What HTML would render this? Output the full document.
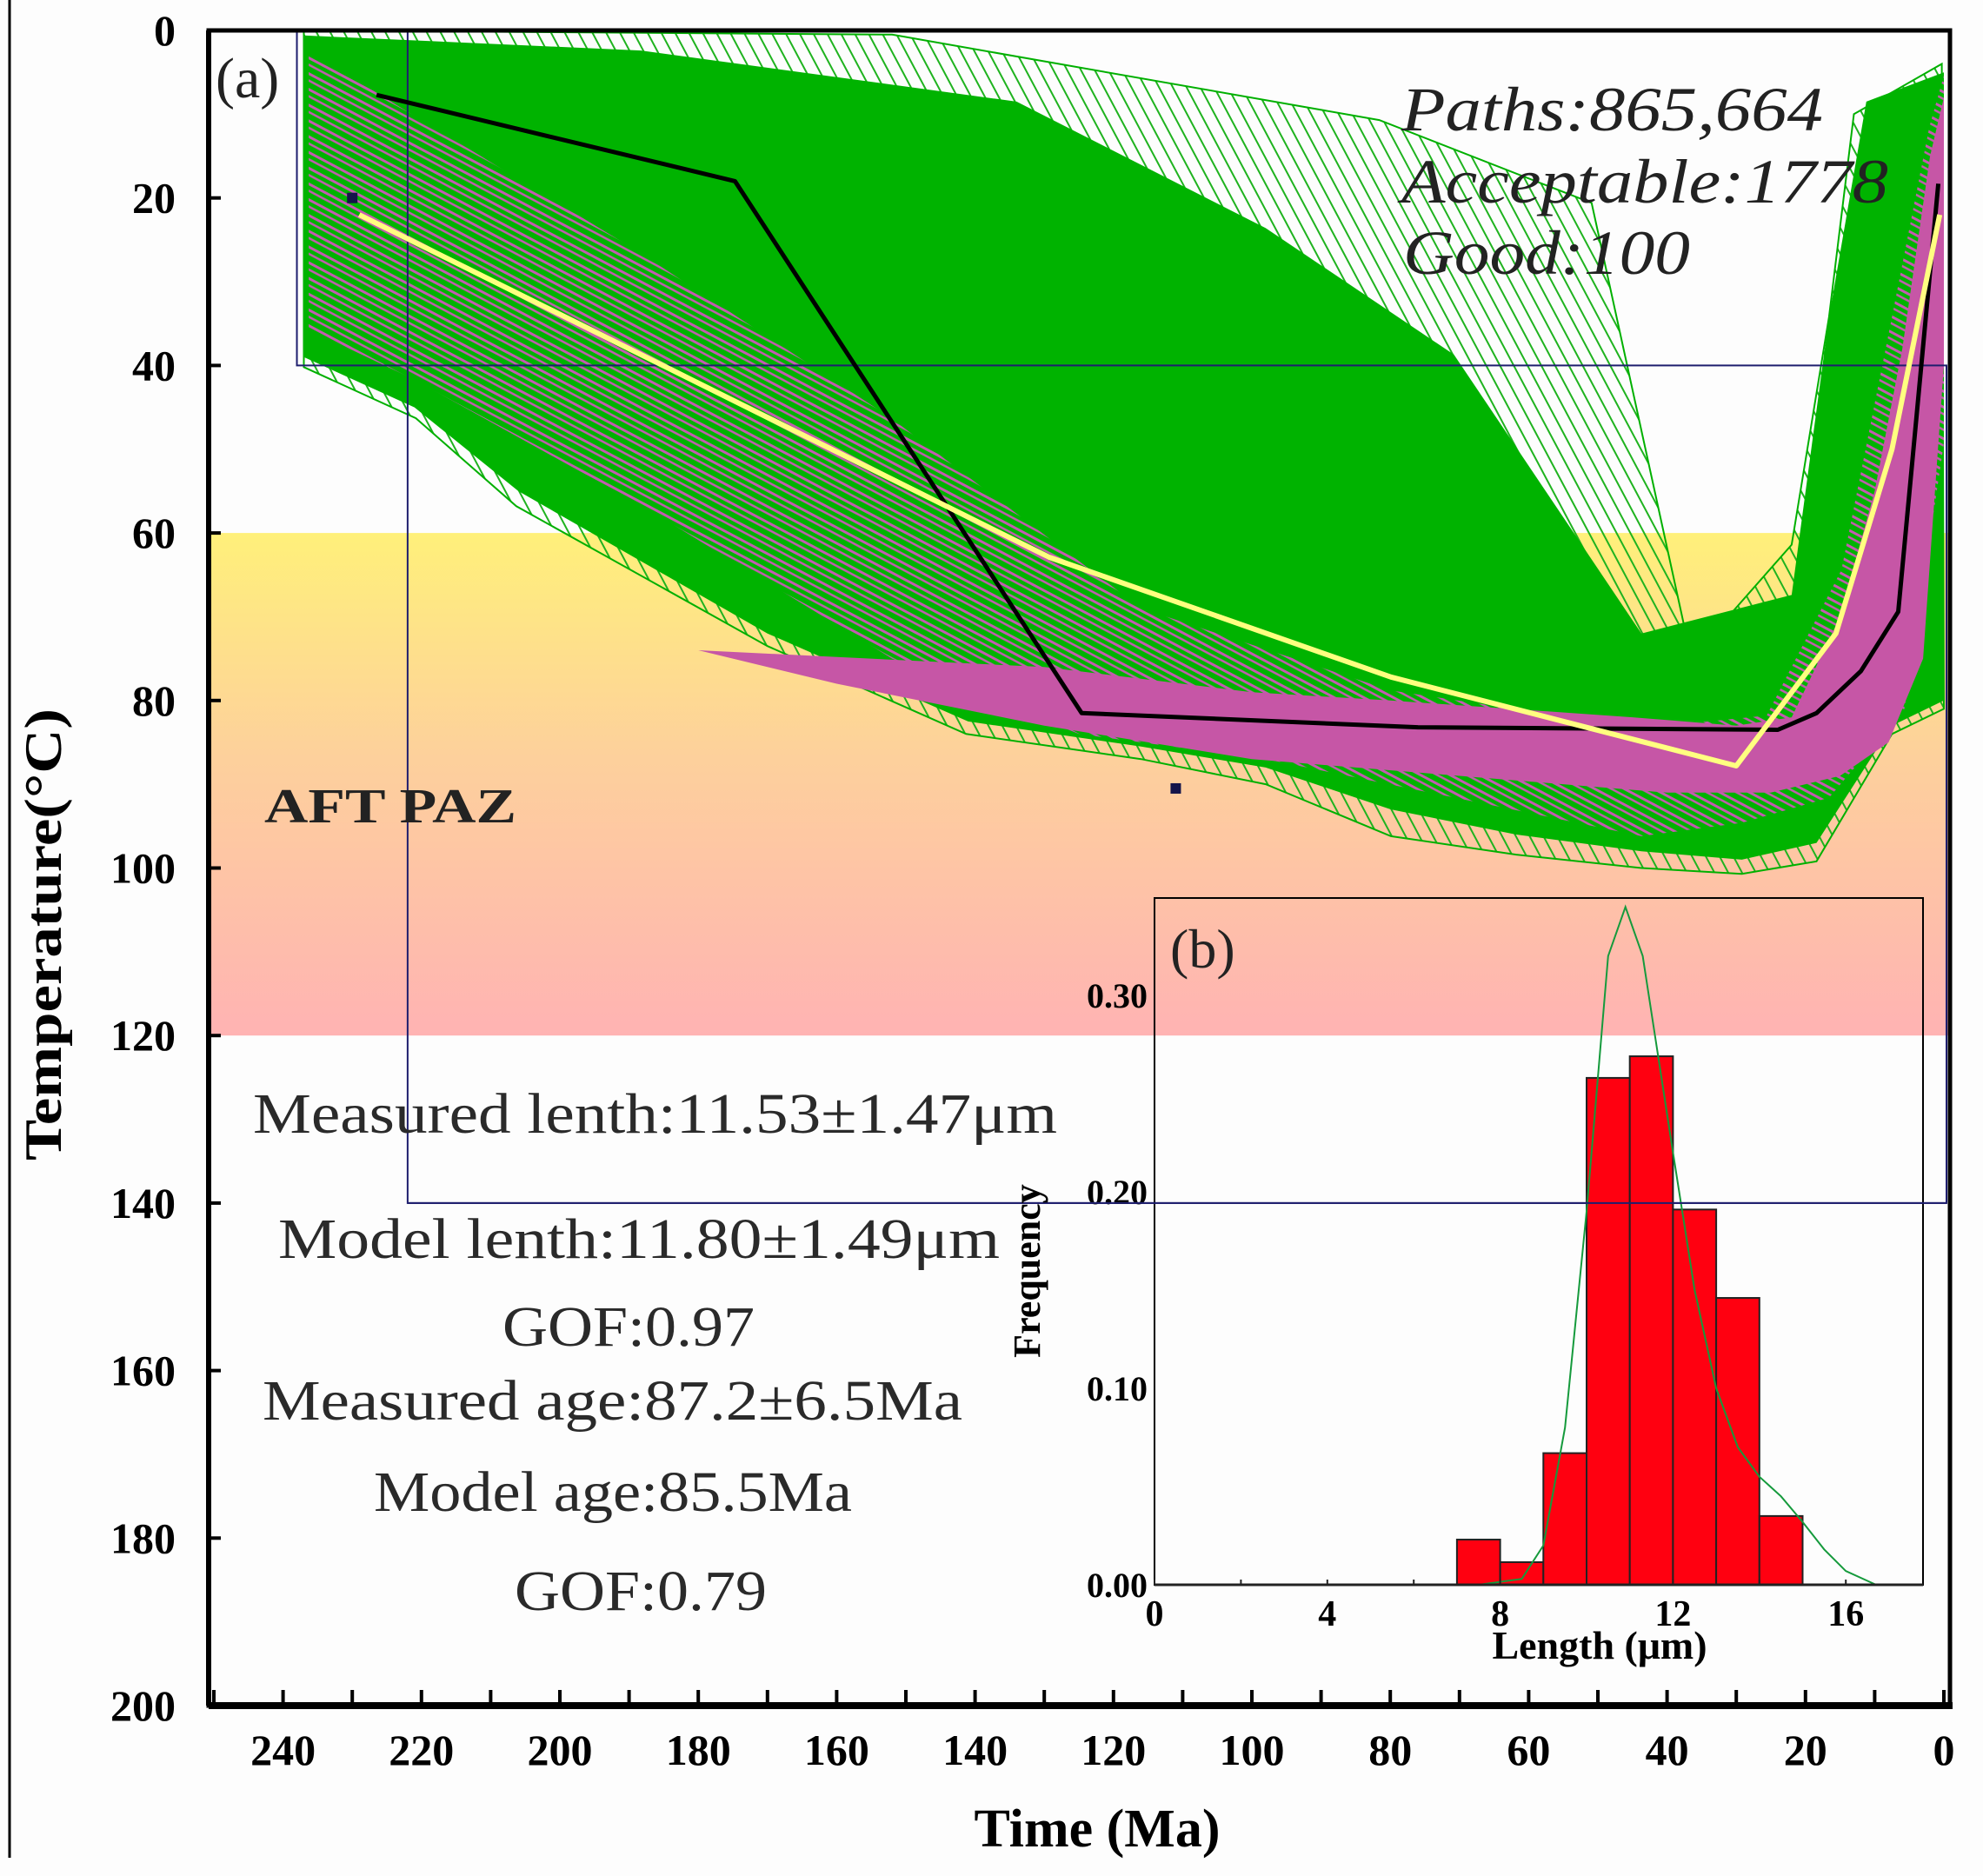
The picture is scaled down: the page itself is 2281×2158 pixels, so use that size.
<!DOCTYPE html>
<html><head><meta charset="utf-8">
<style>
html,body{margin:0;padding:0;background:#fdfdfd;}
svg{display:block;}
text{font-family:"Liberation Serif",serif;}
</style></head>
<body>
<svg id="chart" width="2281" height="2158" viewBox="0 0 2281 2158" xmlns="http://www.w3.org/2000/svg">
<defs>
<linearGradient id="pazGrad" x1="0" y1="0" x2="0" y2="1">
<stop offset="0" stop-color="#fff07a"/>
<stop offset="0.45" stop-color="#fdd09c"/>
<stop offset="1" stop-color="#ffb3b3"/>
</linearGradient>
<pattern id="pinkHatch" patternUnits="userSpaceOnUse" width="16" height="16" patternTransform="rotate(28)">
<line x1="0" y1="4" x2="16" y2="4" stroke="#c45ab0" stroke-width="3"/>
<line x1="0" y1="11" x2="16" y2="11" stroke="#c45ab0" stroke-width="2.5"/>
</pattern>
<pattern id="greenHatch" patternUnits="userSpaceOnUse" width="14" height="14" patternTransform="rotate(62)">
<line x1="0" y1="4" x2="14" y2="4" stroke="#1fb31f" stroke-width="2"/>
</pattern>
</defs>
<rect x="0" y="0" width="2281" height="2158" fill="#fdfdfd"/>
<line x1="11" y1="0" x2="11" y2="2137" stroke="#000" stroke-width="3"/>
<g id="plot"></g>
</svg>
<script>
// ---- main chart data (time in Ma, temperature in °C) ----
const xTicks = [240,220,200,180,160,140,120,100,80,60,40,20,0];
const xMinorTicks = [250,230,210,190,170,150,130,110,90,70,50,30,10];
const yTicks = [0,20,40,60,80,100,120,140,160,180,200];
const pazRange = [60,120];
const acceptOuterMa = [237,152,81.6,50.9,36.5,22,16.6,13,0.3,0,7.5,18.4,29.2,43.7,61.8,79.9,98,116,141.3,170,206.3,220.8,237];
const acceptOuterT  = [0,0.5,10.7,20.6,75,61.4,34.2,10,4,81,84,99.2,100.7,100,98.4,96.2,90,87,84,73.5,56.8,46.3,40.2];
const acceptDenseMa = [237,188.3,134,98,70.8,43.7,22,16.6,11.2,0,0,7.5,18.4,29.2,43.7,61.8,79.9,98,116,141,170,206,221,237];
const acceptDenseT  = [0.6,2.4,8.5,23.6,38.7,72,67.4,34.2,8.5,5,80,83,97,99,98,96,93,88,85.5,82.5,72,55,45,39];
const goodWideMa = [236.3,224.4,188.3,152.1,116,79.9,43.7,25.6,14.8,7.5,2.1,0,0,5.7,16.6,29.2,43.7,61.8,98,125,152,188,221,236.3];
const goodWideT  = [2.4,8.5,26.6,46.3,69,78.8,83.3,81.8,64.4,34.2,11.5,5.4,49.3,81,91.6,94.6,96.2,93.1,87,84,75,56.8,41.7,35.7];
const goodBandMa = [180,130,100,80,45,30,22,15,10,6,2,0,0,3,8,15,25,40,70,100,130,160];
const goodBandT  = [74,76,79,80,82,83,82,70,55,38,15,8,40,75,85,89,91,91,89,87,83,78];
const bestMa = [226.5,174.7,124.6,76,24,18.4,12,6.6,0.8];
const bestT  = [7.7,18,81.5,83.2,83.5,81.5,76.5,69.4,18.3];
const meanMa = [229,129.3,79.9,30,15.6,7.5,0.6];
const meanT  = [22,62.9,77.2,87.8,72,50,22];
const constraintBoxMa = [238,222];
const constraintBoxT = [0,40];
const constraintBox2Ma = [222,0];
const constraintBox2T = [40,140];
const markerMa = [230,111];
const markerT = [20,90.5];

// ---- inset histogram data ----
const binStarts = [7,8,9,10,11,12,13,14];
const binFreq = [0.023,0.0115,0.067,0.258,0.269,0.191,0.146,0.035];
const insetXTicks = [0,4,8,12,16];
const insetXMinor = [2,6,10,14];
const insetYTicks = [0.00,0.10,0.20,0.30];
const fitLen = [7.5,8.5,9,9.5,10,10.5,10.9,11.3,12,12.5,13,13.5,14,14.5,15,15.5,16,16.7];
const fitFreq = [0,0.003,0.02,0.08,0.19,0.32,0.345,0.32,0.22,0.15,0.1,0.07,0.055,0.045,0.032,0.018,0.007,0];

const NS="http://www.w3.org/2000/svg";
const plot=document.getElementById('plot');
function mk(tag,attrs,parent){const e=document.createElementNS(NS,tag);for(const k in attrs)e.setAttribute(k,attrs[k]);(parent||plot).appendChild(e);return e;}
const X0=240, X1=2243, Y0=35, Y1=1962;
function xs(ma){return 2236-7.96*ma;}
function ys(t){return Y0+(Y1-Y0)*t/200;}
function poly(ma,t){return ma.map((m,i)=>xs(m).toFixed(1)+','+ys(t[i]).toFixed(1)).join(' ');}

let e=mk('rect',{x:X0,y:ys(pazRange[0]),width:X1-X0,height:ys(pazRange[1])-ys(pazRange[0]),fill:'url(#pazGrad)'});



e=mk('polygon',{points:poly(acceptOuterMa,acceptOuterT),fill:'url(#greenHatch)',stroke:'#00b000','stroke-width':2});


e=mk('polygon',{points:poly(acceptDenseMa,acceptDenseT),fill:'#00b300'});


e=mk('polygon',{points:poly(goodWideMa,goodWideT),fill:'url(#pinkHatch)'});


e=mk('polygon',{points:poly(goodBandMa,goodBandT),fill:'#c656a6'});



const boxStroke='#1e1e6e';
e=mk('rect',{x:xs(constraintBoxMa[0]),y:ys(constraintBoxT[0]),width:xs(constraintBoxMa[1])-xs(constraintBoxMa[0]),height:ys(constraintBoxT[1])-ys(constraintBoxT[0]),fill:'none',stroke:boxStroke,'stroke-width':2});


e=mk('rect',{x:xs(constraintBox2Ma[0]),y:ys(constraintBox2T[0]),width:X1-4-xs(constraintBox2Ma[0]),height:ys(constraintBox2T[1])-ys(constraintBox2T[0]),fill:'none',stroke:boxStroke,'stroke-width':2});



e=mk('polyline',{points:poly(bestMa,bestT),fill:'none',stroke:'#000','stroke-width':5,'stroke-linejoin':'round'});


e=mk('polyline',{points:poly(meanMa,meanT),fill:'none',stroke:'#ffff80','stroke-width':6,'stroke-linejoin':'round'});


markerMa.forEach((m,i)=>{
  const r=mk('rect',{x:xs(m)-6,y:ys(markerT[i])-6,width:12,height:12,fill:'#14144a'});
  
  
});

e=mk('path',{d:`M${X0},${Y1} L${X0},${Y0} L${X1},${Y0} L${X1},${Y1} Z`,fill:'none',stroke:'#000','stroke-width':5});


e=mk('line',{x1:X0,y1:Y1,x2:X1+3,y2:Y1,stroke:'#000','stroke-width':8});


e=mk('line',{x1:X0,y1:Y0,x2:X0,y2:Y1,stroke:'#000','stroke-width':6});



xTicks.concat(xMinorTicks).forEach(v=>{
  const t=mk('line',{x1:xs(v),y1:Y1,x2:xs(v),y2:Y1-18,stroke:'#000','stroke-width':4});
  
  
});
xTicks.forEach(v=>{
  const t=mk('text',{x:xs(v),y:2030,'text-anchor':'middle','font-size':50,'font-weight':'bold',fill:'#000'});
  t.textContent=v;
  
  
});
yTicks.forEach(v=>{
  const t=mk('line',{x1:X0,y1:ys(v),x2:X0+14,y2:ys(v),stroke:'#000','stroke-width':4});
  
  
  const l=mk('text',{x:202,y:ys(v)+17,'text-anchor':'end','font-size':50,'font-weight':'bold',fill:'#000'});
  l.textContent=v;
  
  
});

const IX0=1328, IX1=2212, IY0=1033, IY1=1823;
function ix(v){return IX0+49.7*v;}
function iy(f){return IY1-2260*f;}
e=mk('rect',{x:IX0,y:IY0,width:IX1-IX0,height:IY1-IY0,fill:'none',stroke:'#000','stroke-width':2});


binStarts.forEach((b,i)=>{
  const r=mk('rect',{x:ix(b),y:iy(binFreq[i]),width:ix(b+1)-ix(b),height:IY1-iy(binFreq[i]),fill:'#ff0010',stroke:'#222','stroke-width':2});
  
  
});
e=mk('polyline',{points:fitLen.map((v,i)=>ix(v).toFixed(1)+','+iy(fitFreq[i]).toFixed(1)).join(' '),fill:'none',stroke:'#159a3c','stroke-width':2});


e=mk('line',{x1:IX0,y1:IY1,x2:IX1,y2:IY1,stroke:'#222','stroke-width':3});


insetXTicks.concat(insetXMinor).forEach(v=>{
  const t=mk('line',{x1:ix(v),y1:IY1,x2:ix(v),y2:IY1-6,stroke:'#222','stroke-width':2});
  
  
});
insetXTicks.forEach(v=>{
  const t=mk('text',{x:ix(v),y:1870,'text-anchor':'middle','font-size':42,'font-weight':'bold',fill:'#000'});
  t.textContent=v;
  
  
});
insetYTicks.forEach(v=>{
  const t=mk('text',{x:1320,y:iy(v)+14,'text-anchor':'end','font-size':40,'font-weight':'bold',fill:'#000'});
  t.textContent=v.toFixed(2);
  
  
});

e=mk('line',{x1:xs(constraintBox2Ma[0]),y1:ys(140),x2:X1-4,y2:ys(140),stroke:boxStroke,'stroke-width':2});



function txt(s,attrs,name){const t=mk('text',attrs);t.textContent=s;return t;}
txt('(a)',{x:248,y:112,'font-size':66,fill:'#222'},'panel-a-label');
txt('Paths:865,664',{x:1612,y:150,'font-size':72,'font-style':'italic',fill:'#222',textLength:485,lengthAdjust:'spacingAndGlyphs'},'paths-count');
txt('Acceptable:1778',{x:1612,y:233,'font-size':72,'font-style':'italic',fill:'#222',textLength:560,lengthAdjust:'spacingAndGlyphs'},'acceptable-count');
txt('Good:100',{x:1614,y:315,'font-size':72,'font-style':'italic',fill:'#222',textLength:330,lengthAdjust:'spacingAndGlyphs'},'good-count');
txt('AFT PAZ',{x:304,y:946,'font-size':56,'font-weight':'bold',fill:'#222',textLength:290,lengthAdjust:'spacingAndGlyphs'},'aft-paz-label');
const stats=[['Measured lenth:11.53\u00b11.47\u03bcm',291,1303,925,'measured-length'],['Model lenth:11.80\u00b11.49\u03bcm',320,1447,830,'model-length'],['GOF:0.97',578,1548,290,'length-gof'],['Measured age:87.2\u00b16.5Ma',302,1633,805,'measured-age'],['Model age:85.5Ma',430,1738,550,'model-age'],['GOF:0.79',592,1852,290,'age-gof']];
stats.forEach(s=>txt(s[0],{x:s[1],y:s[2],'font-size':66,fill:'#2a2a2a',textLength:s[3],lengthAdjust:'spacingAndGlyphs'},s[4]));
txt('(b)',{x:1346,y:1113,'font-size':64,fill:'#222'},'panel-b-label');
txt('Length (\u03bcm)',{x:1840,y:1908,'text-anchor':'middle','font-size':46,'font-weight':'bold',fill:'#000'},'inset-x-axis-title');
txt('Frequency',{x:0,y:0,'text-anchor':'middle','font-size':44,'font-weight':'bold',fill:'#000',transform:'translate(1196,1462) rotate(-90)'},'inset-y-axis-title');
txt('Time (Ma)',{x:1262,y:2124,'text-anchor':'middle','font-size':62,'font-weight':'bold',fill:'#000'},'x-axis-title');
txt('Temperature(\u00b0C)',{x:0,y:0,'text-anchor':'middle','font-size':60,'font-weight':'bold',fill:'#000',textLength:520,lengthAdjust:'spacingAndGlyphs',transform:'translate(70,1075) rotate(-90)'},'y-axis-title');
</script>
</body></html>
